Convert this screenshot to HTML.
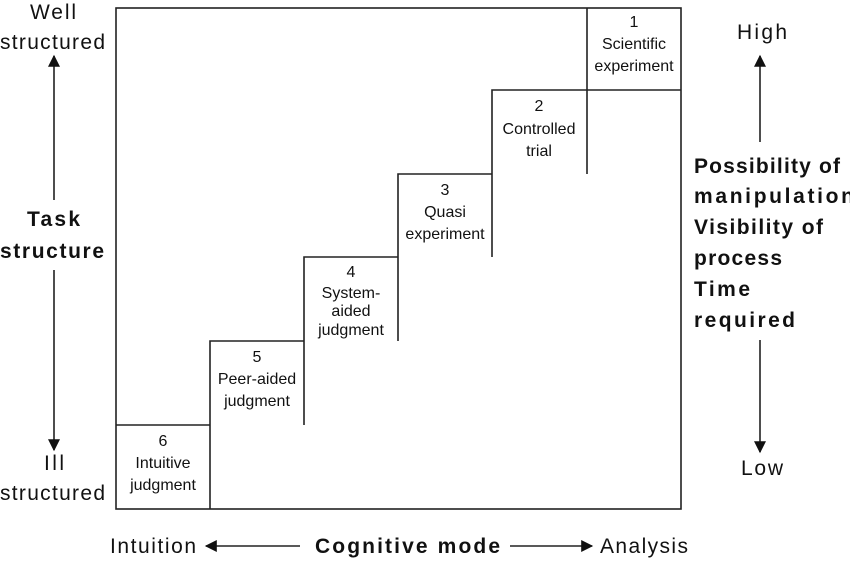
<!DOCTYPE html>
<html><head><style>body{margin:0;background:#fff}</style></head><body>
<svg width="850" height="559" xmlns="http://www.w3.org/2000/svg" font-family="Liberation Sans, sans-serif" fill="#111">
<defs><marker id="b" viewBox="0 0 10 10" refX="9" refY="5" markerWidth="16" markerHeight="12" markerUnits="userSpaceOnUse" orient="auto"><path d="M0,0 L10,5 L0,10 z" fill="#111"/></marker></defs>
<g stroke="#222" stroke-width="1.6" fill="none">
<rect x="116" y="8" width="565" height="501"/>
<path d="M116,425 H210 V509 M210,425 V341 H304 V425 M304,341 V257 H398 V341 M398,257 V174 H492 V257 M492,174 V90 H587 V174 M587,90 V8 M587,90 H681"/>
<line x1="54" y1="200" x2="54" y2="56" marker-end="url(#b)"/>
<line x1="54" y1="270" x2="54" y2="450" marker-end="url(#b)"/>
<line x1="760" y1="142" x2="760" y2="56" marker-end="url(#b)"/>
<line x1="760" y1="340" x2="760" y2="452" marker-end="url(#b)"/>
<line x1="300" y1="546" x2="206" y2="546" marker-end="url(#b)"/>
<line x1="510" y1="546" x2="592" y2="546" marker-end="url(#b)"/>
</g>
<g font-size="16" text-anchor="middle">
<text x="163" y="446">6</text><text x="163" y="468">Intuitive</text><text x="163" y="490">judgment</text>
<text x="257" y="362">5</text><text x="257" y="384">Peer-aided</text><text x="257" y="406">judgment</text>
<text x="351" y="277">4</text><text x="351" y="298">System-</text><text x="351" y="316">aided</text><text x="351" y="335">judgment</text>
<text x="445" y="195">3</text><text x="445" y="217">Quasi</text><text x="445" y="239">experiment</text>
<text x="539" y="111">2</text><text x="539" y="134">Controlled</text><text x="539" y="156">trial</text>
<text x="634" y="27">1</text><text x="634" y="49">Scientific</text><text x="634" y="71">experiment</text>
</g>
<g font-size="21" lengthAdjust="spacingAndGlyphs">
<text x="30" y="19" textLength="46">Well</text><text x="0" y="49" textLength="105">structured</text>
<text x="44" y="470" textLength="20">Ill</text><text x="0" y="500" textLength="105">structured</text>
<text x="737" y="39" textLength="50">High</text><text x="741" y="475" textLength="42">Low</text>
<text x="110" y="553" textLength="86">Intuition</text><text x="600" y="553" textLength="88">Analysis</text>
<g font-weight="bold"><text x="27" y="226" textLength="53">Task</text><text x="0" y="258" textLength="104">structure</text>
<text x="315" y="553" textLength="185">Cognitive mode</text></g>
</g>
<g font-size="21" font-weight="bold" lengthAdjust="spacingAndGlyphs">
<text x="694" y="173" textLength="146">Possibility of</text><text x="694" y="203" textLength="160">manipulation</text>
<text x="694" y="234" textLength="129">Visibility of</text><text x="694" y="265" textLength="88">process</text>
<text x="694" y="296" textLength="56">Time</text><text x="694" y="327" textLength="101">required</text>
</g>
</svg>
</body></html>
